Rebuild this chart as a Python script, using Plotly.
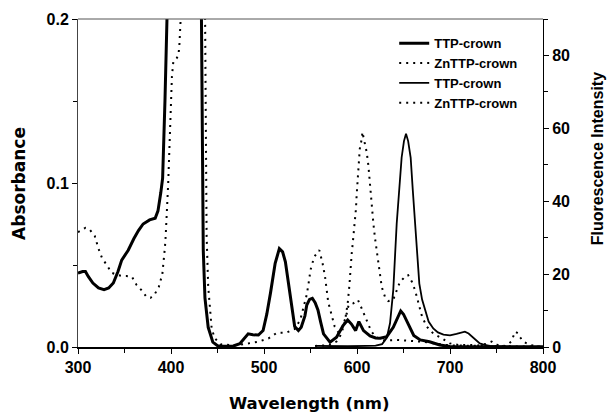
import plotly.graph_objects as go

# ---------------- data ----------------
# TTP-crown absorbance (left axis)
wl_abs_ttp = [300, 305, 308, 311, 316, 322, 328, 333, 338, 343, 347, 354, 360, 365, 370, 377, 383, 386, 389, 391,
              393.5, 397, 400, 405, 412, 418, 424, 430, 432.5, 433.5, 434.7, 436.5, 440, 445, 450, 456, 467, 474,
              480, 483, 488, 494, 499, 503, 507, 512, 516.5, 520, 523, 528, 533, 537, 540, 544, 546, 549, 552,
              555, 558, 561, 564, 571, 578, 585, 590, 594, 598.5, 602, 607, 614, 620, 625, 632, 639, 644, 647,
              650, 653, 657, 661, 668, 678, 689, 700, 750, 800]
abs_ttp = [0.045, 0.046, 0.046, 0.043, 0.039, 0.036, 0.035, 0.036, 0.039, 0.046, 0.053, 0.059, 0.066, 0.071, 0.075,
           0.0775, 0.0785, 0.083, 0.094, 0.103, 0.15, 0.2, 0.3, 0.6, 1.0, 1.1, 0.8, 0.4, 0.2, 0.12, 0.059, 0.03,
           0.012, 0.003, 0.0008, 0.0005, 0.0006, 0.002, 0.006, 0.008, 0.0075, 0.0073, 0.010, 0.020, 0.033, 0.051,
           0.060, 0.058, 0.052, 0.031, 0.0125, 0.010, 0.012, 0.019, 0.0256, 0.029, 0.0297, 0.027, 0.0226, 0.015,
           0.008, 0.003, 0.006, 0.013, 0.0165, 0.014, 0.010, 0.0155, 0.010, 0.0067, 0.0055, 0.0053, 0.0063,
           0.012, 0.018, 0.022, 0.020, 0.0165, 0.011, 0.007, 0.0043, 0.0032, 0.0012, 0.0003, 0.0002, 0.0001]

# ZnTTP-crown absorbance (left axis)
wl_abs_zn = [300, 303, 308, 313, 318, 322, 326, 331, 336, 342, 347, 352, 358, 363, 368, 374, 378, 382, 387, 390.7,
             392.5, 393.5, 394.3, 395.3, 396, 397, 398.5, 400, 401, 402.5, 406, 408, 409, 410.4, 413, 418, 423,
             428, 433, 436, 437, 437.5, 438.3, 440, 442, 443.7, 447, 454, 470, 483, 494, 505, 514, 524, 533, 539,
             542, 546, 548, 550, 554, 559.5, 563, 565.6, 569, 572.7, 576, 580, 585, 589, 591, 596, 601, 605, 610,
             615, 620, 630, 643, 655, 671, 685, 700, 750, 800]
abs_zn = [0.070, 0.071, 0.0727, 0.0713, 0.0677, 0.060, 0.054, 0.050, 0.0453, 0.044, 0.0433, 0.0433, 0.0429, 0.0378,
          0.0348, 0.0303, 0.030, 0.0317, 0.0368, 0.0445, 0.053, 0.061, 0.068, 0.0764, 0.088, 0.10, 0.13, 0.157,
          0.165, 0.174, 0.176, 0.178, 0.184, 0.2, 0.35, 0.9, 1.3, 1.0, 0.5, 0.26, 0.2, 0.13, 0.068, 0.037, 0.0205,
          0.0114, 0.0053, 0.0015, 0.001, 0.0022, 0.0032, 0.0053, 0.0087, 0.0087, 0.011, 0.0165, 0.0236, 0.032,
          0.039, 0.047, 0.055, 0.059, 0.051, 0.043, 0.0276, 0.0195, 0.0124, 0.009, 0.013, 0.0205, 0.0256, 0.0266,
          0.0287, 0.0236, 0.0165, 0.010, 0.006, 0.004, 0.0043, 0.004, 0.0032, 0.002, 0.001, 0.0005, 0.0002]

# TTP-crown fluorescence (right axis)
wl_fl_ttp = [555, 570, 590, 610, 620, 627, 632, 635.5, 639, 642.7, 646, 648, 650.5, 652.7, 655, 657.7, 660, 662.4,
             665, 667, 670, 673, 677, 682, 687, 693, 700, 707, 713, 716, 720, 724, 728, 732, 737, 743, 760, 800]
fl_ttp = [0.3, 0.2, 0.2, 0.3, 0.4, 0.8, 2.5, 6.5, 15.6, 33.9, 46, 52, 56.5, 58.5, 56.5, 52, 43, 33.9, 24, 17.4, 13,
          10.1, 7, 5.1, 4, 3.4, 3.2, 3.6, 4.1, 4.2, 3.7, 2.8, 1.9, 1.0, 0.6, 0.3, 0.1, 0]

# ZnTTP-crown fluorescence (right axis)
wl_fl_zn = [555, 570, 578, 583, 587, 590, 591.7, 593, 594.3, 595.4, 596.8, 597.8, 598.9, 599.6, 600.3, 601.4, 603,
            604.8, 605.9, 607, 608.6, 610.4, 612.2, 614, 615.8, 617.6, 619.4, 621.2, 623, 624.7, 626.6, 630, 633.7,
            639, 642.7, 646.2, 649.8, 652, 655, 657, 659, 662.4, 666, 670, 675, 682, 691, 700, 710, 720, 730, 738,
            744.8, 750, 760, 766, 770, 773.5, 775, 778.8, 782.4, 787, 795, 800]
fl_zn = [0.3, 0.5, 1.5, 3.5, 7, 12, 16.5, 22, 25.6, 28.4, 31.6, 35.3, 38, 41.6, 44.8, 49, 54.4, 56.7, 59, 57.5,
         55.8, 53.5, 49.9, 43.9, 37.5, 33.9, 29.8, 26.6, 22, 19.3, 16.5, 13.8, 12.6, 13, 15.6, 17.9, 18.8, 19.5,
         19.7, 18.8, 17.9, 15.6, 12, 8.3, 5.6, 3.7, 2.4, 1.0, 0.5, 0.6, 0.4, 0.8, 1.5, 0.6, 0.3, 1.5, 4.2, 3.7,
         2.8, 1.5, 1.0, 0.5, 0.2, 0.1]

series_names = ["TTP-crown", "ZnTTP-crown", "TTP-crown", "ZnTTP-crown"]
x_ticks = [300, 400, 500, 600, 700, 800]
left_ticks = [0.0, 0.1, 0.2]
right_ticks = [0, 20, 40, 60, 80]
x_title = "Wavelength (nm)"
left_title = "Absorbance"
right_title = "Fluorescence Intensity"

# ---------------- figure ----------------
FONT = "Liberation Sans, Arial, sans-serif"
WIDE = "DejaVu Sans, Verdana, sans-serif"
dot = "2px,5px"

fig = go.Figure()
fig.add_trace(go.Scatter(x=wl_abs_ttp, y=abs_ttp, mode="lines", name=f"<b>{series_names[0]}</b>",
                         line=dict(color="#000", width=3), yaxis="y"))
fig.add_trace(go.Scatter(x=wl_abs_zn, y=abs_zn, mode="lines", name=f"<b>{series_names[1]}</b>",
                         line=dict(color="#000", width=2, dash=dot), yaxis="y"))
fig.add_trace(go.Scatter(x=wl_fl_ttp, y=fl_ttp, mode="lines", name=f"<b>{series_names[2]}</b>",
                         line=dict(color="#000", width=1.8), yaxis="y2"))
fig.add_trace(go.Scatter(x=wl_fl_zn, y=fl_zn, mode="lines", name=f"<b>{series_names[3]}</b>",
                         line=dict(color="#000", width=2, dash=dot), yaxis="y2"))

tickfont = dict(family=FONT, size=16, color="#000")

fig.update_layout(
    width=608, height=412,
    margin=dict(l=78, r=65, t=19, b=65),
    paper_bgcolor="white", plot_bgcolor="white",
    font=dict(family=FONT, color="#000"),
    showlegend=True,
    legend=dict(x=0.68, y=0.972, xanchor="left", yanchor="top",
                font=dict(family=FONT, size=13, color="#000"),
                bgcolor="rgba(0,0,0,0)", borderwidth=0, tracegroupgap=0),
    xaxis=dict(range=[300, 800], tickvals=x_ticks, ticktext=[f"<b>{v}</b>" for v in x_ticks],
               ticks="outside", ticklen=5, tickwidth=1, tickcolor="#000",
               minor=dict(ticks="outside", ticklen=4, dtick=50, tickcolor="#000", showgrid=False),
               showline=True, linecolor="#000", linewidth=1.5, showgrid=False, zeroline=False,
               tickfont=tickfont),
    yaxis=dict(range=[0, 0.2], tickvals=left_ticks, ticktext=[f"<b>{v:.1f}</b>" for v in left_ticks],
               ticks="outside", ticklen=5, tickwidth=1, tickcolor="#000",
               minor=dict(ticks="outside", ticklen=4, dtick=0.05, tickcolor="#000", showgrid=False),
               showline=True, linecolor="#444", linewidth=1, showgrid=False, zeroline=False,
               tickfont=tickfont),
    yaxis2=dict(range=[0, 90], overlaying="y", side="right", tickvals=right_ticks,
                ticktext=[f"<b>{v}</b>" for v in right_ticks],
                ticks="outside", ticklen=5, tickwidth=1, tickcolor="#000",
                minor=dict(ticks="outside", ticklen=4, dtick=10, tickcolor="#000", showgrid=False),
                showline=True, linecolor="#000", linewidth=1, showgrid=False, zeroline=False,
                tickfont=tickfont),
    shapes=[dict(type="line", xref="paper", yref="paper", x0=0, x1=1, y0=1, y1=1,
                 line=dict(color="#555", width=1))],
    annotations=[
        dict(text=f"<b>{x_title}</b>", xref="paper", yref="paper", x=0.497, y=-0.171,
             xanchor="center", yanchor="middle", showarrow=False,
             font=dict(family=WIDE, size=16.5, color="#000")),
        dict(text=f"<b>{left_title}</b>", xref="paper", yref="paper", x=-0.127, y=0.5,
             xanchor="center", yanchor="middle", textangle=-90, showarrow=False,
             font=dict(family=WIDE, size=17, color="#000")),
        dict(text=f"<b>{right_title}</b>", xref="paper", yref="paper", x=1.116, y=0.575,
             xanchor="center", yanchor="middle", textangle=-90, showarrow=False,
             font=dict(family=FONT, size=16, color="#000")),
    ],
)

# remove the browser's default 8px page margin so the 608x412 figure fills the window exactly
fig.write_html("out.html", config={"displayModeBar": False},
               post_script="document.body.style.margin='0';document.body.style.overflow='hidden';")
